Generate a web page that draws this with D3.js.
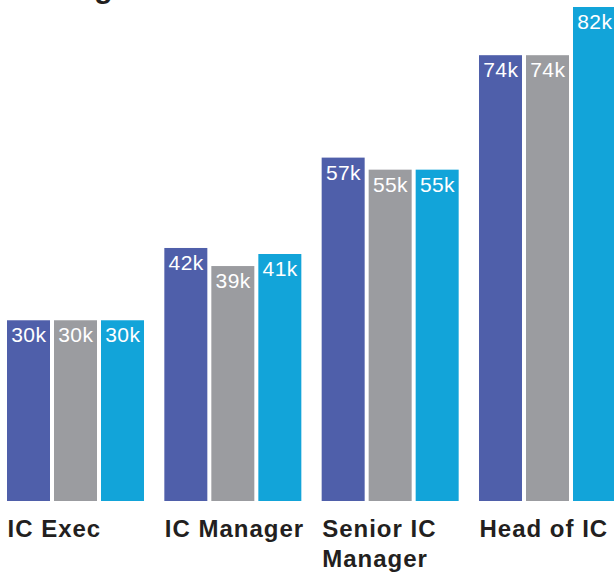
<!DOCTYPE html>
<html>
<head>
<meta charset="utf-8">
<script src="https://cdn.jsdelivr.net/npm/d3@7"></script>
<style>
  html, body { margin: 0; padding: 0; background: #ffffff; }
  svg { display: block; font-family: Arial, "Liberation Sans", Helvetica, sans-serif; }
</style>
</head>
<body>
<svg id="chart" width="614" height="577"></svg>
<script>
// Role categories and the three salary series (thousands)
const categories = ["IC Exec", "IC Manager", "Senior IC Manager", "Head of IC"];
const seriesKeys = ["s1", "s2", "s3"];
const seriesA = [30, 42, 57, 74];
const seriesB = [30, 39, 55, 74];
const seriesC = [30, 41, 55, 82];
const seriesColors = ["#4f5faa", "#9b9ca0", "#12a4d9"];
const titleText = "Average Salaries";

const values = { s1: seriesA, s2: seriesB, s3: seriesC };
const rows = categories.map((c, i) => ({
  category: c,
  bars: seriesKeys.map(k => ({ key: k, value: values[k][i] }))
}));

const svg = d3.select("#chart");
const baseY = 501;

const x0 = d3.scaleBand()
  .domain(categories)
  .range([7, 616])
  .paddingInner(0.1292)
  .paddingOuter(0);

const x1 = d3.scaleBand()
  .domain(seriesKeys)
  .range([0, x0.bandwidth()])
  .paddingInner(0.0851)
  .paddingOuter(0);

const y = d3.scaleLinear().domain([0, 82]).range([baseY, 7]);

const color = d3.scaleOrdinal().domain(seriesKeys).range(seriesColors);

// Title, mostly above the visible area
svg.append("text")
  .attr("x", 7)
  .attr("y", -2)
  .attr("font-size", 30)
  .attr("font-weight", "bold")
  .attr("letter-spacing", "1px")
  .attr("fill", "#231f20")
  .text(titleText);

const groups = svg.selectAll("g.group")
  .data(rows)
  .join("g")
  .attr("class", "group")
  .attr("transform", d => `translate(${x0(d.category)},0)`);

groups.selectAll("rect")
  .data(d => d.bars)
  .join("rect")
  .attr("x", d => x1(d.key))
  .attr("y", d => y(d.value))
  .attr("width", x1.bandwidth())
  .attr("height", d => baseY - y(d.value))
  .attr("fill", d => color(d.key));

groups.selectAll("text.value")
  .data(d => d.bars)
  .join("text")
  .attr("class", "value")
  .attr("x", d => x1(d.key) + x1.bandwidth() / 2 + 0.3)
  .attr("y", d => y(d.value) + 22)
  .attr("text-anchor", "middle")
  .attr("font-size", 21)
  .attr("letter-spacing", "0.4px")
  .attr("fill", "#ffffff")
  .text(d => d.value + "k");

// Category labels, wrapped to the group step width
const wrapWidth = x0.step();
const measure = svg.append("text")
  .attr("font-size", 24).attr("font-weight", "bold")
  .attr("letter-spacing", "1px").attr("visibility", "hidden");

function wrapLines(label) {
  const words = label.split(" ");
  const lines = [];
  let line = [];
  words.forEach(w => {
    const trial = line.concat(w).join(" ");
    measure.text(trial);
    if (measure.node().getComputedTextLength() > wrapWidth && line.length) {
      lines.push(line.join(" "));
      line = [w];
    } else {
      line.push(w);
    }
  });
  lines.push(line.join(" "));
  return lines;
}

groups.append("text")
  .attr("class", "category")
  .attr("x", 0.5)
  .attr("y", 537)
  .attr("font-size", 24)
  .attr("font-weight", "bold")
  .attr("letter-spacing", "1px")
  .attr("fill", "#231f20")
  .each(function(d) {
    const t = d3.select(this);
    wrapLines(d.category).forEach((ln, i) => {
      t.append("tspan").attr("x", 0.5).attr("dy", i === 0 ? 0 : 30).text(ln);
    });
  });

measure.remove();
</script>
</body>
</html>
